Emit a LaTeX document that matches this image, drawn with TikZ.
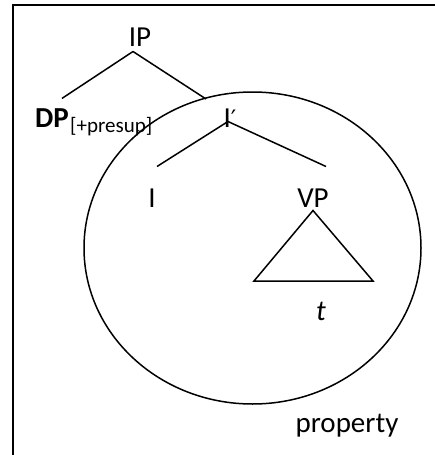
\documentclass[tikz,border=0pt]{standalone}
\usepackage{fontspec}
\setmainfont{Carlito}
\newfontfamily\primefont{DejaVu Sans}
\usetikzlibrary{positioning}

\begin{document}
\begin{tikzpicture}[x=1pt, y=-1pt,
  label/.style={inner sep=0pt, font=\fontsize{29}{32}\selectfont},
  sublabel/.style={inner sep=0pt, font=\fontsize{21}{24}\selectfont},
  branch/.style={line width=1.5pt},
  frame/.style={line width=2pt}]

  \useasboundingbox (0,0) rectangle (435,455);
  \draw[frame] (13,455) -- (13,5) -- (435,5);

  % tree nodes
  \node[label] (ip)   at (140,37)  {IP};
  \node[label] (dp)   at (52,118)  {\bfseries DP};
  \node[sublabel, anchor=west] (presup) at (70,127) {[+presup]};
  \node[label] (ibar) at (230,118) {I{\primefont\fontsize{24}{26}\selectfont ′}};
  \node[label] (i)    at (152,198) {I};
  \node[label] (vp)   at (313,198) {VP};
  \node[label, font=\fontsize{29}{32}\selectfont\itshape] (t) at (321,311) {t};
  \node[label, anchor=base] (prop) at (347,432) {property};

  % branches
  \draw[branch] ([xshift=-7pt, yshift=-5pt]ip.south) -- ([xshift=10pt, yshift=10pt]dp.north);
  \draw[branch] ([xshift=-7pt, yshift=-5pt]ip.south) -- (206,99);
  \draw[branch] ([xshift=-2pt, yshift=6pt]ibar.south) -- ([xshift=5pt, yshift=22pt]i.north);
  \draw[branch] ([xshift=-2pt, yshift=6pt]ibar.south) -- ([xshift=13pt, yshift=22pt]vp.north);

  % VP triangle
  \draw[branch, line join=miter] ([yshift=-3pt]vp.south) -- (254,281) -- (373,281) -- cycle;

  % property set
  \draw[line width=1.5pt] (252.5,248) ellipse [x radius=168.5, y radius=156];
\end{tikzpicture}
\end{document}
